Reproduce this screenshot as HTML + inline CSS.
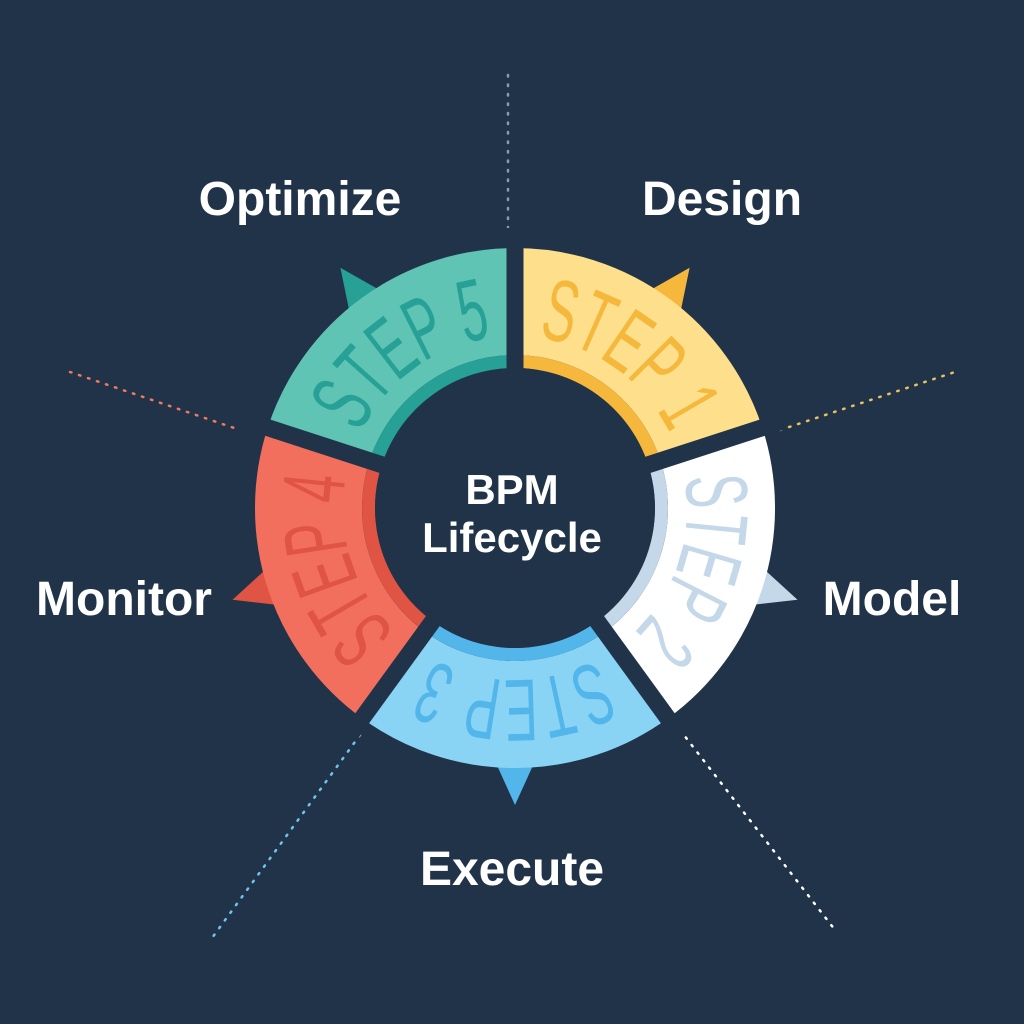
<!DOCTYPE html>
<html><head><meta charset="utf-8"><style>
html,body{margin:0;padding:0;background:#213349;}
svg{display:block}
.lbl{font-family:"Liberation Sans",sans-serif;font-weight:bold;fill:#fff;font-size:48px;text-anchor:middle}
.st{font-family:"Liberation Sans Narrow","Liberation Sans",sans-serif;font-size:88px;text-anchor:middle}
</style></head><body>
<svg width="1024" height="1024" viewBox="0 0 1024 1024" xmlns="http://www.w3.org/2000/svg">
<rect width="1024" height="1024" fill="#213349"/>
<g fill="none" stroke-width="2.5" stroke-dasharray="1.5 8" stroke-linecap="round">
<line x1="508" y1="75" x2="508" y2="250" stroke="#8a9bb0"/>
<line x1="780" y1="430" x2="955" y2="372" stroke="#e8c060"/>
<line x1="680" y1="730" x2="835" y2="930" stroke="#ffffff"/>
<line x1="360" y1="735" x2="212" y2="938" stroke="#6fc4ee"/>
<line x1="70" y1="372" x2="240" y2="430" stroke="#f07a60"/>
</g>
<polygon points="689.6,267.7 679,319.3 643.8,293.7" fill="#f5b83d"/>
<polygon points="797.5,599.8 758.6,564.3 745.1,605.7" fill="#c5d8ea"/>
<polygon points="515,805 536.8,757 493.2,757" fill="#52b6ea"/>
<polygon points="232.5,599.8 284.9,605.7 271.4,564.3" fill="#e05444"/>
<polygon points="340.4,267.7 386.2,293.7 351,319.3" fill="#27a096"/>
<g fill="none" stroke-width="107">
<path d="M515,301.5 A206.5,206.5 0 0 1 711.4,444.2" stroke="#fddf8c"/>
<path d="M711.4,444.2 A206.5,206.5 0 0 1 636.4,675.1" stroke="#ffffff"/>
<path d="M636.4,675.1 A206.5,206.5 0 0 1 393.6,675.1" stroke="#89d4f5"/>
<path d="M393.6,675.1 A206.5,206.5 0 0 1 318.6,444.2" stroke="#f26f5e"/>
<path d="M318.6,444.2 A206.5,206.5 0 0 1 515,301.5" stroke="#5fc4b4"/>
</g>
<g fill="none" stroke-width="13">
<path d="M515,361.5 A146.5,146.5 0 0 1 654.3,462.7" stroke="#f5b83d"/>
<path d="M654.3,462.7 A146.5,146.5 0 0 1 601.1,626.5" stroke="#c5d8ea"/>
<path d="M601.1,626.5 A146.5,146.5 0 0 1 428.9,626.5" stroke="#52b6ea"/>
<path d="M428.9,626.5 A146.5,146.5 0 0 1 375.7,462.7" stroke="#e05444"/>
<path d="M375.7,462.7 A146.5,146.5 0 0 1 515,361.5" stroke="#27a096"/>
</g>
<defs>
<path id="t1" d="M518,336 A172,172 0 0 1 677.6,452"/>
<path id="t2" d="M679.5,457.7 A172,172 0 0 1 618.5,645.4"/>
<path id="t3" d="M613.7,648.9 A172,172 0 0 1 416.3,648.9"/>
<path id="t4" d="M411.5,645.4 A172,172 0 0 1 350.5,457.7"/>
<path id="t5" d="M352.4,452 A172,172 0 0 1 512,336"/>
</defs>
<text class="st" fill="#f5b83d"><textPath href="#t1" startOffset="50%" textLength="170" lengthAdjust="spacingAndGlyphs">STEP 1</textPath></text>
<text class="st" fill="#c5d8ea"><textPath href="#t2" startOffset="50%" textLength="170" lengthAdjust="spacingAndGlyphs">STEP 2</textPath></text>
<text class="st" fill="#52b6ea"><textPath href="#t3" startOffset="50%" textLength="170" lengthAdjust="spacingAndGlyphs">STEP 3</textPath></text>
<text class="st" fill="#e05444"><textPath href="#t4" startOffset="50%" textLength="170" lengthAdjust="spacingAndGlyphs">STEP 4</textPath></text>
<text class="st" fill="#27a096"><textPath href="#t5" startOffset="50%" textLength="170" lengthAdjust="spacingAndGlyphs">STEP 5</textPath></text>
<g stroke="#213349" stroke-width="17">
<line x1="515" y1="508" x2="515" y2="228"/>
<line x1="515" y1="508" x2="781.3" y2="421.5"/>
<line x1="515" y1="508" x2="679.6" y2="734.5"/>
<line x1="515" y1="508" x2="350.4" y2="734.5"/>
<line x1="515" y1="508" x2="248.7" y2="421.5"/>
</g>
<circle cx="515" cy="508" r="140" fill="#213349"/>
<text x="512" y="504" class="lbl" style="font-size:42px">BPM</text>
<text x="512" y="552" class="lbl" style="font-size:42px">Lifecycle</text>
<text x="300" y="215" class="lbl">Optimize</text>
<text x="722" y="215" class="lbl">Design</text>
<text x="892" y="615" class="lbl">Model</text>
<text x="124" y="615" class="lbl">Monitor</text>
<text x="512" y="885" class="lbl">Execute</text>
</svg>
</body></html>
